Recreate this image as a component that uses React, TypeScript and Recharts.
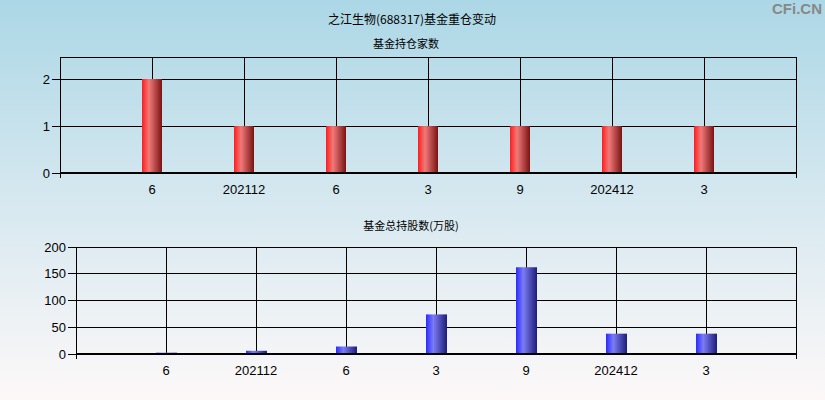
import React from 'react';
import { BarChart, Bar, XAxis, YAxis, CartesianGrid } from 'recharts';

// 之江生物 fund holding changes
const chartTitle = '之江生物(688317)基金重仓变动';
const countTitle = '基金持仓家数';
const sharesTitle = '基金总持股数(万股)';

const periodLabels = ['6', '202112', '6', '3', '9', '202412', '3'];
const fundCounts = [2, 1, 1, 1, 1, 1, 1];
const totalShares = [2.5, 6, 14, 74, 162, 38, 38];

const countTicks = [0, 1, 2];
const shareTicks = [0, 50, 100, 150, 200];
const slotTicks = [0, 1, 2, 3, 4, 5, 6, 7, 8];

const rows = periodLabels.map((label, i) => ({
  slot: i + 1,
  label,
  count: fundCounts[i],
  shares: totalShares[i],
}));

const tickFont = '"Liberation Sans", Arial, sans-serif';
const cjkFont = '"Noto Sans CJK SC", "Liberation Sans", sans-serif';

function PeriodTick(props: any) {
  const { x, y, payload } = props;
  const v = payload.value;
  if (v === 0 || v === slotTicks.length - 1) {
    return <line x1={x} x2={x} y1={y} y2={y + 5} stroke="#000" shapeRendering="crispEdges" />;
  }
  return (
    <text x={x} y={y + 21} textAnchor="middle" fill="#000" fontSize={13} fontFamily={tickFont}>
      {periodLabels[v - 1]}
    </text>
  );
}

function BarDefs() {
  return (
    <defs>
      <linearGradient id="redBar" x1="0" y1="0" x2="1" y2="0">
        <stop offset="0%" stopColor="#ff1c1c" />
        <stop offset="35%" stopColor="#f07a7a" />
        <stop offset="100%" stopColor="#7a1212" />
      </linearGradient>
      <linearGradient id="blueBar" x1="0" y1="0" x2="1" y2="0">
        <stop offset="0%" stopColor="#2a2aff" />
        <stop offset="35%" stopColor="#7c7cf4" />
        <stop offset="100%" stopColor="#1c1c78" />
      </linearGradient>
    </defs>
  );
}

const label = (text: string, left: number, top: number, size: number) => (
  <div
    style={{
      position: 'absolute',
      left,
      top,
      transform: 'translate(-50%, -50%)',
      fontFamily: cjkFont,
      fontSize: size,
      color: '#000',
      whiteSpace: 'nowrap',
    }}
  >
    {text}
  </div>
);

const crispCss = `
.recharts-cartesian-grid line,
.recharts-cartesian-axis-line,
.recharts-cartesian-axis-tick-line { shape-rendering: crispEdges; }
`;

export default function App() {
  return (
    <div
      style={{
        position: 'absolute',
        left: 0,
        top: 0,
        width: 825,
        height: 400,
        overflow: 'hidden',
        background: 'linear-gradient(180deg, #acd7e6 0%, #d6e8f0 50%, #fdf8f8 100%)',
      }}
    >
      <style>{crispCss}</style>
      {label(chartTitle, 412, 18, 12)}
      {label(countTitle, 406, 43, 11)}
      {label(sharesTitle, 411, 225, 11)}
      <div
        style={{
          position: 'absolute',
          right: 3,
          top: 0,
          fontFamily: tickFont,
          fontWeight: 'bold',
          fontSize: 15,
          color: '#888',
        }}
      >
        CFi.CN
      </div>

      <div style={{ position: 'absolute', left: 0, top: 0 }}>
        <BarChart width={825} height={200} data={rows} margin={{ top: 57, right: 29, left: 20, bottom: 0 }}>
          <BarDefs />
          <CartesianGrid stroke="#000" strokeWidth={1} horizontal vertical />
          <XAxis
            dataKey="slot"
            type="number"
            domain={[0, 8]}
            ticks={slotTicks}
            interval={0}
            height={27}
            tickSize={0}
            tickMargin={0}
            tickLine={false}
            axisLine={{ stroke: '#000', strokeWidth: 1.5 }}
            tick={<PeriodTick />}
          />
          <YAxis
            type="number"
            domain={[0, 2.47]}
            ticks={countTicks}
            interval={0}
            width={40}
            tickSize={8}
            tickMargin={2}
            axisLine={{ stroke: '#000' }}
            tickLine={{ stroke: '#000' }}
            tick={{ fill: '#000', fontSize: 13, fontFamily: tickFont }}
          />
          <Bar dataKey="count" fill="url(#redBar)" barSize={20} isAnimationActive={false} />
        </BarChart>
      </div>

      <div style={{ position: 'absolute', left: 0, top: 200 }}>
        <BarChart width={825} height={200} data={rows} margin={{ top: 47, right: 29, left: 20, bottom: 0 }}>
          <BarDefs />
          <CartesianGrid stroke="#000" strokeWidth={1} horizontal vertical />
          <XAxis
            dataKey="slot"
            type="number"
            domain={[0, 8]}
            ticks={slotTicks}
            interval={0}
            height={46}
            tickSize={0}
            tickMargin={0}
            tickLine={false}
            axisLine={{ stroke: '#000', strokeWidth: 1.5 }}
            tick={<PeriodTick />}
          />
          <YAxis
            type="number"
            domain={[0, 200]}
            ticks={shareTicks}
            interval={0}
            width={56}
            tickSize={8}
            tickMargin={2}
            axisLine={{ stroke: '#000' }}
            tickLine={{ stroke: '#000' }}
            tick={{ fill: '#000', fontSize: 13, fontFamily: tickFont }}
          />
          <Bar dataKey="shares" fill="url(#blueBar)" barSize={21} isAnimationActive={false} />
        </BarChart>
      </div>
    </div>
  );
}
